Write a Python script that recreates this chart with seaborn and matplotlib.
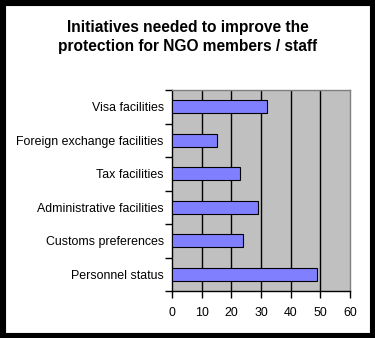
import matplotlib
matplotlib.use("Agg")
import matplotlib.pyplot as plt
from matplotlib.patches import Rectangle
from matplotlib.ticker import FixedLocator
import seaborn as sns
import pandas as pd

categories = ["Visa facilities", "Foreign exchange facilities", "Tax facilities",
              "Administrative facilities", "Customs preferences", "Personnel status"]
values = [32, 15, 23, 29, 24, 49]
x_ticks = [0, 10, 20, 30, 40, 50, 60]

sns.set_style("white")
plt.rcParams["font.family"] = ["Liberation Sans", "DejaVu Sans"]
plt.rcParams["text.color"] = "black"
plt.rcParams["xtick.color"] = "black"
plt.rcParams["ytick.color"] = "black"

df = pd.DataFrame({"initiative": categories, "count": values})

fig = plt.figure(figsize=(3.75, 3.38), dpi=100)
ax = fig.add_axes([172 / 375, 1 - 291 / 338, (350 - 172) / 375, (291 - 90) / 338])
ax.set_facecolor("#C0C0C0")

sns.barplot(data=df, x="count", y="initiative", orient="h", color="#8080FF",
            saturation=1, width=0.4, edgecolor="black", linewidth=0.8, ax=ax, zorder=3)

ax.set_xlim(0, 60)
ax.set_ylim(len(categories) - 0.5, -0.5)
ax.set_xticks(x_ticks)
ax.set_xticklabels([str(t) for t in x_ticks], fontsize=8.9)
ax.tick_params(axis="y", which="major", left=False, length=0, labelsize=8.9, pad=6,
               labelcolor="black")
ax.yaxis.set_minor_locator(FixedLocator([i - 0.5 for i in range(len(categories) + 1)]))
ax.tick_params(axis="y", which="minor", left=True, length=5, width=1, color="black",
               direction="out")
ax.tick_params(axis="x", bottom=True, length=5, width=1, color="black", direction="out",
               pad=6.5, labelcolor="black")
ax.set_xlabel("")
ax.set_ylabel("")

for x in x_ticks[1:-1]:
    ax.axvline(x, color="black", lw=1, zorder=1)

ax.spines["left"].set_color("black")
ax.spines["bottom"].set_color("black")
ax.spines["top"].set_color("#808080")
ax.spines["right"].set_color("#808080")
for s in ax.spines.values():
    s.set_linewidth(1)
    s.set_visible(True)

fig.text(0.5, 1 - 37 / 338, "Initiatives needed to improve the\nprotection for NGO members / staff",
         ha="center", va="center", fontsize=11.2, fontweight="bold", linespacing=1.3,
         color="black")

fig.patches.append(Rectangle((0, 0), 1, 1, transform=fig.transFigure, fill=False,
                             edgecolor="black", linewidth=8, zorder=10))

fig.savefig("out.png", dpi=100, facecolor="white")
